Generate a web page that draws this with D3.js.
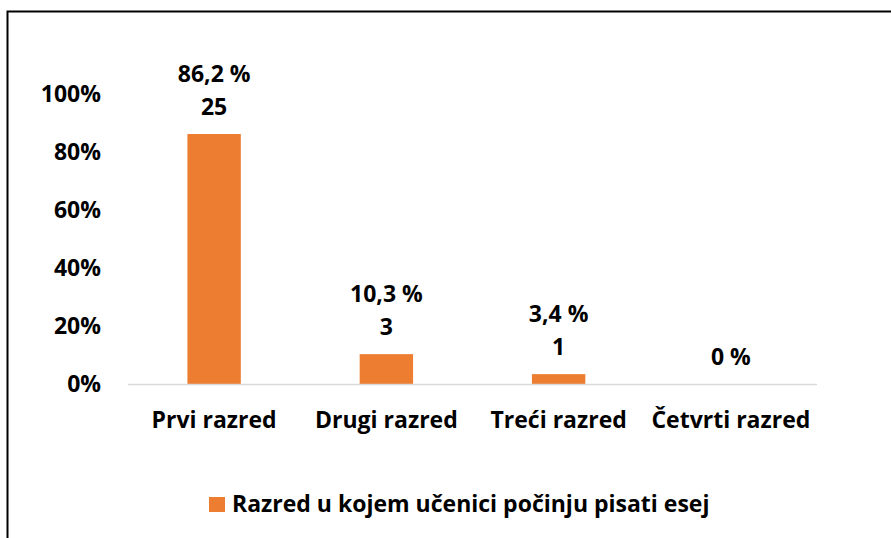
<!DOCTYPE html>
<html>
<head>
<meta charset="utf-8">
<script src="https://cdn.jsdelivr.net/npm/d3@7"></script>
<style>
  body { margin: 0; background: #fff; }
  svg { display: block; }
</style>
</head>
<body>
<div id="chart"></div>
<script>
// data
const categories = ['Prvi razred', 'Drugi razred', 'Treći razred', 'Četvrti razred']
const percents = [86.2, 10.3, 3.4, 0]
const counts = [25, 3, 1, 0]
const y_ticks = [0, 20, 40, 60, 80, 100]
const series_name = 'Razred u kojem učenici počinju pisati esej'

const width = 891
const height = 538
const font = '"Open Sans", Lato, sans-serif'
const font_size = 23
const orange = '#ED7D31'

const svg = d3.select('#chart')
    .append('svg')
    .attr('width', width)
    .attr('height', height)

// chart frame (only left and top edges show in the picture)
svg.append('path')
    .attr('d', `M7.5,${height} V11.5 H${width}`)
    .attr('fill', 'none')
    .attr('stroke', '#000')
    .attr('stroke-width', 2)

const xScale = d3.scaleBand()
    .domain(categories)
    .range([128, 817])
    .paddingInner(0.69)
    .paddingOuter(0.345)

const yScale = d3.scaleLinear()
    .domain([0, 100])
    .range([384, 94])

// y tick labels (no gridlines)
svg.append('g')
    .selectAll('text')
    .data(y_ticks)
    .join('text')
      .attr('x', 101)
      .attr('y', d => yScale(d))
      .attr('dy', '0.35em')
      .attr('text-anchor', 'end')
      .attr('font-family', font)
      .attr('font-weight', 'bold')
      .attr('font-size', font_size)
      .attr('fill', '#000')
      .text(d => d + '%')

const rows = categories.map((c, i) => ({cat: c, pct: percents[i], n: counts[i]}))

svg.append('g')
    .selectAll('rect')
    .data(rows)
    .join('rect')
      .attr('x', d => xScale(d.cat))
      .attr('y', d => yScale(d.pct))
      .attr('width', xScale.bandwidth())
      .attr('height', d => yScale(0) - yScale(d.pct))
      .attr('fill', orange)

// x axis line
svg.append('line')
    .attr('x1', 128)
    .attr('x2', 817)
    .attr('y1', yScale(0) + 0.5)
    .attr('y2', yScale(0) + 0.5)
    .attr('stroke', '#d9d9d9')
    .attr('stroke-width', 1.5)

// category labels
svg.append('g')
    .selectAll('text')
    .data(categories)
    .join('text')
      .attr('x', d => xScale(d) + xScale.bandwidth() / 2)
      .attr('y', 428)
      .attr('text-anchor', 'middle')
      .attr('font-family', font)
      .attr('font-weight', 'bold')
      .attr('font-size', font_size)
      .attr('fill', '#000')
      .text(d => d)

// data labels: percent line above count line, zero shows percent only
const fmt = v => String(v).replace('.', ',') + ' %'
const label = svg.append('g')
    .selectAll('text')
    .data(rows)
    .join('text')
      .attr('x', d => xScale(d.cat) + xScale.bandwidth() / 2)
      .attr('text-anchor', 'middle')
      .attr('font-family', font)
      .attr('font-weight', 'bold')
      .attr('font-size', font_size)
      .attr('fill', '#000')

label.each(function (d) {
    const base = yScale(d.pct) - 19
    const t = d3.select(this)
    if (d.n === 0) {
        t.append('tspan').attr('x', t.attr('x')).attr('y', base).text(fmt(d.pct))
    } else {
        t.append('tspan').attr('x', t.attr('x')).attr('y', base - 33).text(fmt(d.pct))
        t.append('tspan').attr('x', t.attr('x')).attr('y', base).text(d.n)
    }
})

// legend
const legend = svg.append('g')
legend.append('rect')
    .attr('x', 209)
    .attr('y', 497)
    .attr('width', 16)
    .attr('height', 15)
    .attr('fill', orange)
legend.append('text')
    .attr('x', 232)
    .attr('y', 504)
    .attr('dy', '0.35em')
    .attr('font-family', font)
    .attr('font-weight', 'bold')
    .attr('font-size', font_size)
    .attr('fill', '#000')
    .text(series_name)
</script>
</body>
</html>
